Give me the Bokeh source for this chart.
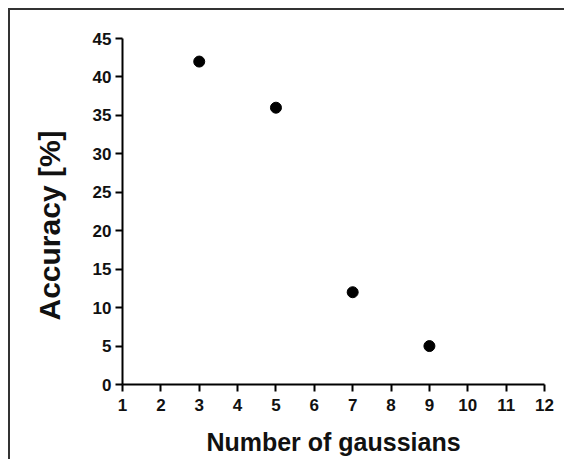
from bokeh.plotting import figure
from bokeh.models import Range1d, FixedTicker, Title
from bokeh.embed import file_html
from bokeh.resources import INLINE

# Data
n_gaussians = [3, 5, 7, 9]
accuracy = [42, 36, 12, 5]
x_ticks = list(range(1, 13))
y_ticks = [0, 5, 10, 15, 20, 25, 30, 35, 40, 45]
x_title = "Number of gaussians"
y_title = "Accuracy [%]"

p = figure(width=556, height=451, output_backend="svg", toolbar_location=None,
           x_range=Range1d(1, 12), y_range=Range1d(0, 45),
           min_border_left=112, min_border_right=22, min_border_top=28, min_border_bottom=77,
           styles={"border-top": "2px solid #333333", "border-left": "2px solid #333333",
                   "margin-top": "8px", "margin-left": "8px"})

p.scatter(n_gaussians, accuracy, size=11, color="black")

p.grid.visible = False
p.outline_line_color = None
p.background_fill_color = "white"
p.border_fill_color = "white"

for ax in (p.xaxis[0], p.yaxis[0]):
    ax.axis_line_width = 2
    ax.axis_line_color = "black"
    ax.major_tick_line_width = 2
    ax.major_tick_line_color = "black"
    ax.major_tick_out = 7
    ax.major_tick_in = 0
    ax.minor_tick_line_color = None
    ax.major_label_text_font = "Liberation Sans"
    ax.major_label_text_font_style = "bold"
    ax.major_label_text_font_size = "17px"
    ax.major_label_text_color = "#111111"
    ax.axis_label_text_font = "Liberation Sans"
    ax.axis_label_text_font_style = "bold"
    ax.axis_label_text_color = "#111111"

p.xaxis.ticker = FixedTicker(ticks=x_ticks)
p.yaxis.ticker = FixedTicker(ticks=y_ticks)
p.xaxis.axis_label = x_title
p.xaxis.axis_label_text_font_size = "25px"
p.xaxis.axis_label_standoff = 14
p.xaxis.major_label_standoff = 7
p.yaxis.major_label_standoff = 4

yt = Title(text=y_title, align="left", vertical_align="top", offset=64, standoff=44,
           text_font="Liberation Sans", text_font_style="bold",
           text_font_size="30px", text_color="#111111")
p.add_layout(yt, "left")

open("out.html", "w").write(file_html(p, INLINE))
